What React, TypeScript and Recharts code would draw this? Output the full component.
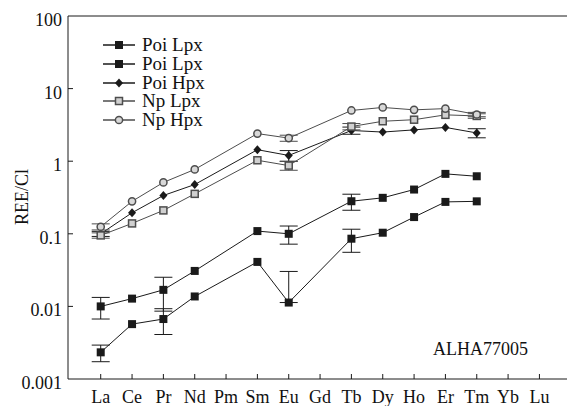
import { LineChart, Line, XAxis, YAxis, ErrorBar, ReferenceLine, Legend, Customized } from 'recharts';

const FONT = "'Liberation Serif', Tinos, 'Nimbus Roman', 'Nimbus Roman No9 L', FreeSerif, 'DejaVu Serif', serif";

const elements = ['La', 'Ce', 'Pr', 'Nd', 'Pm', 'Sm', 'Eu', 'Gd', 'Tb', 'Dy', 'Ho', 'Er', 'Tm', 'Yb', 'Lu'];
const poiLpxA = [0.010, 0.0128, 0.0169, 0.0308, null, 0.109, 0.1, null, 0.281, 0.313, 0.407, 0.669, 0.62, null, null];
const poiLpxB = [0.00233, 0.0057, 0.0067, 0.0137, null, 0.041, 0.0113, null, 0.0856, 0.1035, 0.17, 0.275, 0.28, null, null];
const poiHpx = [0.1, 0.195, 0.337, 0.477, null, 1.44, 1.2, null, 2.65, 2.52, 2.7, 2.92, 2.45, null, null];
const npLpx = [0.095, 0.139, 0.21, 0.355, null, 1.03, 0.87, null, 3.0, 3.55, 3.73, 4.35, 4.2, null, null];
const npHpx = [0.125, 0.28, 0.51, 0.77, null, 2.4, 2.08, null, 5.0, 5.5, 5.1, 5.3, 4.4, null, null];

// error bars (symmetric value or [minus, plus])
const poiLpxAErr = [0.0033, null, 0.0083, null, null, null, 0.028, null, 0.07, null, null, null, null, null, null];
const poiLpxBErr = [0.0006, null, 0.0026, null, null, null, [0, 0.019], null, 0.03, null, null, null, null, null, null];
const poiHpxErr = [0.008, null, null, null, null, null, 0.2, null, 0.3, null, null, null, 0.35, null, null];
const npLpxErr = [0.008, null, null, null, null, null, 0.12, null, 0.3, null, null, null, 0.3, null, null];
const npHpxErr = [0.012, null, null, null, null, null, 0.2, null, null, null, null, null, 0.3, null, null];

const yTicks = [0.001, 0.01, 0.1, 1, 10, 100];
const yTickLabels = ['0.001', '0.01', '0.1', '1', '10', '100'];

const legendOrder = ['a', 'b', 'h', 'nl', 'nh'];

const data = elements
  .map((el, i) => ({
    x: i,
    el,
    a: poiLpxA[i],
    b: poiLpxB[i],
    h: poiHpx[i],
    nl: npLpx[i],
    nh: npHpx[i],
    aErr: poiLpxAErr[i],
    bErr: poiLpxBErr[i],
    hErr: poiHpxErr[i],
    nlErr: npLpxErr[i],
    nhErr: npHpxErr[i],
  }))
  .filter((d) => d.a != null);

const DARK = '#1a1a1a';
const GREY = '#4d4d4d';

function Marker({ kind, cx, cy }: { kind: string; cx: number; cy: number }) {
  if (kind === 'square') {
    return <rect x={cx - 4} y={cy - 4} width={8} height={8} fill={DARK} />;
  }
  if (kind === 'diamond') {
    return (
      <path
        d={`M${cx},${cy - 4.5}L${cx + 4},${cy}L${cx},${cy + 4.5}L${cx - 4},${cy}Z`}
        fill={DARK}
      />
    );
  }
  if (kind === 'openSquare') {
    return <rect x={cx - 3.5} y={cy - 3.5} width={7} height={7} fill="#d0d0d0" stroke={GREY} strokeWidth={1.5} />;
  }
  return <circle cx={cx} cy={cy} r={3.6} fill="#d8d8d8" stroke={GREY} strokeWidth={1.5} />;
}

const markerFor: Record<string, string> = {
  a: 'square',
  b: 'square',
  h: 'diamond',
  nl: 'openSquare',
  nh: 'openCircle',
};

const dotFn = (kind: string) => (p: any) => {
  if (p.cx == null || p.cy == null) return <g key={p.key ?? p.index} />;
  return (
    <g key={p.key ?? `${kind}-${p.index}`}>
      <Marker kind={kind} cx={p.cx} cy={p.cy} />
    </g>
  );
};

const YTick = (props: any) => {
  const { x, y, payload, index } = props;
  const axisX = x + 6;
  return (
    <g>
      {index > 0 && index < yTicks.length - 1 && (
        <line x1={axisX} x2={axisX + 5} y1={y} y2={y} stroke={DARK} />
      )}
      <text x={x} y={y + 4} textAnchor="end" dominantBaseline="central" fontSize={18} fill="#111" style={{ fontFamily: FONT }}>
        {yTickLabels[yTicks.indexOf(payload.value)] ?? payload.value}
      </text>
    </g>
  );
};

const XTick = (props: any) => {
  const { x, y, payload } = props;
  return (
    <g>
      <line x1={x} x2={x} y1={y} y2={y - 5} stroke={DARK} />
      <text x={x} y={y + 24} textAnchor="middle" fontSize={18} fill="#111" style={{ fontFamily: FONT }}>
        {elements[payload.value]}
      </text>
    </g>
  );
};

const renderLegend = (props: any) => {
  const items = [...(props.payload || [])].sort(
    (p: any, q: any) => legendOrder.indexOf(p.dataKey) - legendOrder.indexOf(q.dataKey)
  );
  return (
    <div style={{ fontFamily: FONT }}>
      {items.map((entry: any, i: number) => {
        const kind = markerFor[entry.dataKey];
        const col = kind === 'openSquare' || kind === 'openCircle' ? GREY : DARK;
        return (
          <div key={i} style={{ display: 'flex', alignItems: 'center', height: 18.7 }}>
            <svg width={36} height={18} style={{ overflow: 'visible' }}>
              <line x1={2} x2={34} y1={9} y2={9} stroke={col} strokeWidth={1.5} />
              <Marker kind={kind} cx={18} cy={9} />
            </svg>
            <span style={{ fontSize: 19, marginLeft: 5, lineHeight: '16px', color: '#111', whiteSpace: 'nowrap' }}>
              {entry.value}
            </span>
          </div>
        );
      })}
    </div>
  );
};

export default function App() {
  return (
    <div style={{ position: 'absolute', left: 0, top: 0, background: '#fff', fontFamily: FONT }}>
      <LineChart
        width={567}
        height={406}
        data={data}
        margin={{ top: 16, right: 0, bottom: 0, left: 8 }}
        style={{ fontFamily: FONT }}
      >
        <XAxis
          dataKey="x"
          type="number"
          domain={[-1.044, 14.88]}
          ticks={elements.map((_, i) => i)}
          interval={0}
          allowDataOverflow
          height={27}
          tickSize={0}
          tickMargin={0}
          tick={<XTick />}
          axisLine={{ stroke: DARK }}
          tickLine={false}
        />
        <YAxis
          scale="log"
          domain={[0.001, 100]}
          ticks={yTicks}
          interval={0}
          allowDataOverflow
          width={60}
          tickSize={0}
          tickMargin={6}
          tick={<YTick />}
          axisLine={{ stroke: DARK }}
          tickLine={false}
        />
        <ReferenceLine y={100} stroke={DARK} />
        <Legend
          layout="vertical"
          align="center"
          verticalAlign="middle"
          itemSorter={null as any}
          wrapperStyle={{ left: 101, top: 36, width: 140, height: 96 }}
          content={renderLegend}
        />
        <Line dataKey="a" name="Poi Lpx" stroke={DARK} strokeWidth={1} connectNulls isAnimationActive={false} dot={dotFn('square')} activeDot={false}>
          <ErrorBar dataKey="aErr" width={9} stroke={DARK} strokeWidth={1} direction="y" />
        </Line>
        <Line dataKey="b" name="Poi Lpx" stroke={DARK} strokeWidth={1} connectNulls isAnimationActive={false} dot={dotFn('square')} activeDot={false}>
          <ErrorBar dataKey="bErr" width={9} stroke={DARK} strokeWidth={1} direction="y" />
        </Line>
        <Line dataKey="h" name="Poi Hpx" stroke={DARK} strokeWidth={1} connectNulls isAnimationActive={false} dot={dotFn('diamond')} activeDot={false}>
          <ErrorBar dataKey="hErr" width={9} stroke={DARK} strokeWidth={1} direction="y" />
        </Line>
        <Line dataKey="nl" name="Np Lpx" stroke={GREY} strokeWidth={1} connectNulls isAnimationActive={false} dot={dotFn('openSquare')} activeDot={false}>
          <ErrorBar dataKey="nlErr" width={9} stroke={GREY} strokeWidth={1} direction="y" />
        </Line>
        <Line dataKey="nh" name="Np Hpx" stroke={GREY} strokeWidth={1} connectNulls isAnimationActive={false} dot={dotFn('openCircle')} activeDot={false}>
          <ErrorBar dataKey="nhErr" width={9} stroke={GREY} strokeWidth={1} direction="y" />
        </Line>
        <Customized
          component={() => (
            <g fill="#111" style={{ fontFamily: FONT }}>
              <text x={433} y={355} fontSize={18}>ALHA77005</text>
              <text x={22} y={197} fontSize={18} textAnchor="middle" dominantBaseline="central" transform="rotate(-90, 22, 197)">
                REE/Cl
              </text>
            </g>
          )}
        />
      </LineChart>
    </div>
  );
}
